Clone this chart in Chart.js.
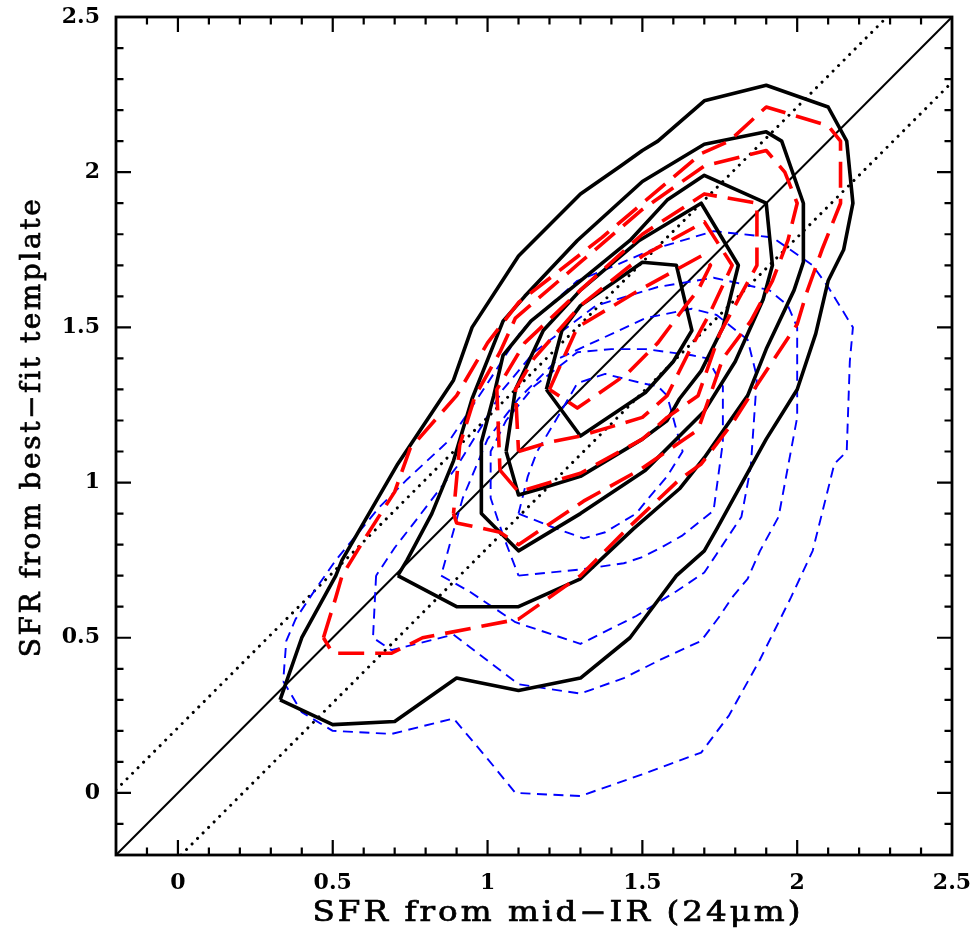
<!DOCTYPE html>
<html>
<head>
<meta charset="utf-8">
<script src="https://cdn.jsdelivr.net/npm/chart.js@4/dist/chart.umd.min.js"></script>
<style>
  html,body{margin:0;padding:0;background:#fff;}
  canvas{display:block;}
</style>
</head>
<body>
<canvas id="c" width="977" height="940"></canvas>
<script>
// ---------------- DATA ----------------
const xTicks = [0, 0.5, 1, 1.5, 2, 2.5];
const xTickLabels = ['0', '0.5', '1', '1.5', '2', '2.5'];
const yTicks = [0, 0.5, 1, 1.5, 2, 2.5];
const yTickLabels = ['0', '0.5', '1', '1.5', '2', '2.5'];
const xTitle = 'SFR from mid\u2212IR (24\u03bcm)';
const yTitle = 'SFR from best\u2212fit template';

// reference lines: 1:1 and +/- offset (dotted)
const oneToOne = [[-0.2, -0.2], [2.5, 2.5]];
const upperDotted = [[-0.2, 0.01], [2.29, 2.5]];
const lowerDotted = [[0.01, -0.2], [2.5, 2.29]];

// black solid contours (outer -> inner)
const black1 = [[0.33,0.30],[0.50,0.22],[0.70,0.23],[0.80,0.30],[0.90,0.37],[1.10,0.33],[1.30,0.37],[1.46,0.50],[1.55,0.62],[1.61,0.70],[1.70,0.78],[1.74,0.85],[1.85,1.05],[1.90,1.14],[2.00,1.30],[2.06,1.48],[2.10,1.65],[2.15,1.75],[2.18,1.90],[2.16,2.10],[2.10,2.21],[1.90,2.28],[1.70,2.23],[1.55,2.10],[1.50,2.07],[1.43,2.02],[1.30,1.93],[1.10,1.73],[0.95,1.50],[0.89,1.33],[0.71,1.06],[0.53,0.75],[0.51,0.70],[0.40,0.50],[0.33,0.30]];
const black2 = [[0.71,0.70],[0.90,0.60],[1.10,0.60],[1.30,0.69],[1.47,0.85],[1.62,0.98],[1.70,1.08],[1.84,1.28],[1.90,1.43],[1.99,1.62],[2.02,1.71],[2.02,1.90],[1.95,2.10],[1.90,2.13],[1.70,2.09],[1.50,1.97],[1.29,1.78],[1.12,1.60],[1.05,1.52],[1.01,1.42],[0.95,1.27],[0.89,1.07],[0.82,0.90],[0.74,0.75],[0.71,0.70]];
const black3 = [[0.98,0.90],[1.04,0.84],[1.10,0.78],[1.30,0.90],[1.51,1.04],[1.62,1.15],[1.70,1.23],[1.80,1.39],[1.89,1.59],[1.92,1.70],[1.90,1.90],[1.70,1.99],[1.58,1.91],[1.46,1.78],[1.30,1.65],[1.14,1.52],[1.05,1.41],[1.02,1.28],[0.98,1.13],[0.98,0.90]];
const black4 = [[1.06,1.10],[1.10,0.96],[1.17,0.98],[1.30,1.02],[1.50,1.14],[1.58,1.20],[1.62,1.27],[1.69,1.36],[1.76,1.50],[1.81,1.70],[1.69,1.90],[1.49,1.78],[1.30,1.62],[1.18,1.49],[1.09,1.30],[1.06,1.10]];
const black5 = [[1.19,1.30],[1.24,1.49],[1.30,1.57],[1.50,1.71],[1.61,1.70],[1.66,1.49],[1.60,1.39],[1.51,1.29],[1.30,1.15],[1.19,1.30]];

// red long-dashed contours
const red1 = [[0.47,0.50],[0.51,0.63],[0.53,0.70],[0.61,0.83],[0.70,0.97],[0.75,1.11],[0.90,1.28],[1.00,1.45],[1.10,1.58],[1.37,1.79],[1.69,2.06],[1.78,2.10],[1.90,2.21],[2.10,2.15],[2.14,2.10],[2.14,1.90],[2.08,1.75],[2.03,1.61],[2.00,1.51],[1.88,1.33],[1.79,1.19],[1.69,1.06],[1.62,1.01],[1.45,0.85],[1.30,0.70],[1.10,0.56],[0.79,0.50],[0.69,0.45],[0.50,0.45],[0.47,0.50]];
const red2 = [[0.89,0.90],[0.90,0.87],[1.04,0.84],[1.10,0.80],[1.31,0.94],[1.49,1.04],[1.68,1.17],[1.76,1.40],[1.85,1.52],[1.92,1.65],[1.97,1.78],[2.00,1.90],[1.96,2.00],[1.90,2.07],[1.70,2.02],[1.50,1.88],[1.30,1.71],[1.09,1.53],[1.04,1.42],[0.96,1.28],[0.91,1.12],[0.89,0.90]];
const red3 = [[1.04,1.04],[1.10,0.97],[1.30,1.03],[1.50,1.14],[1.58,1.21],[1.68,1.28],[1.75,1.48],[1.81,1.59],[1.87,1.70],[1.87,1.90],[1.70,1.93],[1.50,1.80],[1.30,1.62],[1.12,1.45],[1.03,1.30],[1.04,1.04]];
const red4 = [[1.10,1.10],[1.20,1.13],[1.30,1.15],[1.50,1.21],[1.58,1.28],[1.65,1.42],[1.72,1.55],[1.79,1.70],[1.70,1.84],[1.50,1.73],[1.30,1.57],[1.15,1.40],[1.09,1.30],[1.10,1.10]];
const red5 = [[1.20,1.30],[1.29,1.50],[1.49,1.62],[1.69,1.73],[1.72,1.70],[1.68,1.62],[1.64,1.57],[1.55,1.45],[1.45,1.35],[1.29,1.24],[1.20,1.30]];

// blue short-dashed contours
const blue1 = [[0.34,0.36],[0.40,0.26],[0.50,0.20],[0.69,0.19],[0.89,0.24],[1.00,0.11],[1.09,0.00],[1.30,-0.01],[1.50,0.06],[1.69,0.13],[1.78,0.25],[1.88,0.43],[1.98,0.63],[2.05,0.78],[2.12,1.06],[2.16,1.10],[2.17,1.39],[2.18,1.50],[2.10,1.63],[2.05,1.70],[1.92,1.79],[1.73,1.81],[1.53,1.75],[1.39,1.69],[1.29,1.65],[1.20,1.57],[1.11,1.49],[1.00,1.32],[0.88,1.14],[0.74,1.01],[0.65,0.92],[0.51,0.75],[0.44,0.65],[0.38,0.56],[0.35,0.49],[0.34,0.36]];
const blue2 = [[0.64,0.70],[0.63,0.50],[0.69,0.46],[0.89,0.51],[1.10,0.35],[1.30,0.32],[1.44,0.37],[1.56,0.43],[1.69,0.49],[1.75,0.57],[1.79,0.63],[1.84,0.69],[1.88,0.78],[1.94,0.89],[2.00,1.21],[2.00,1.50],[1.97,1.57],[1.91,1.62],[1.73,1.66],[1.55,1.63],[1.35,1.57],[1.15,1.42],[1.05,1.30],[0.98,1.18],[0.90,1.05],[0.77,0.88],[0.70,0.79],[0.64,0.70]];
const blue3 = [[0.85,0.70],[0.94,0.65],[1.09,0.55],[1.30,0.48],[1.48,0.57],[1.61,0.65],[1.70,0.71],[1.74,0.77],[1.82,0.89],[1.85,1.05],[1.87,1.34],[1.84,1.46],[1.74,1.54],[1.66,1.56],[1.51,1.53],[1.36,1.46],[1.23,1.40],[1.10,1.27],[1.00,1.14],[0.92,0.95],[0.90,0.88],[0.85,0.70]];
const blue4 = [[1.10,0.70],[1.30,0.72],[1.44,0.74],[1.50,0.76],[1.56,0.79],[1.63,0.83],[1.73,0.91],[1.76,1.13],[1.76,1.31],[1.71,1.40],[1.66,1.41],[1.51,1.43],[1.40,1.43],[1.29,1.42],[1.15,1.31],[1.06,1.20],[1.01,1.10],[1.01,0.95],[1.05,0.83],[1.10,0.70]];
const blue5 = [[1.10,0.90],[1.20,0.86],[1.31,0.82],[1.38,0.84],[1.48,0.90],[1.52,0.95],[1.58,1.02],[1.63,1.10],[1.61,1.17],[1.58,1.28],[1.55,1.31],[1.50,1.32],[1.38,1.35],[1.29,1.32],[1.22,1.20],[1.16,1.10],[1.13,1.02],[1.10,0.90]];

// ---------------- STYLES ----------------
const toPts = arr => arr.map(p => ({x: p[0], y: p[1]}));
const base = {showLine: true, pointRadius: 0, pointHoverRadius: 0, fill: false, tension: 0, borderJoinStyle: 'round', clip: 0};
const blackStyle = {borderColor: '#000000', borderWidth: 3.6, borderDash: [], order: 1};
const redStyle = {borderColor: '#ff0000', borderWidth: 3.6, borderDash: [26, 11], borderCapStyle: 'butt', order: 0};
const blueStyle = {borderColor: '#0000ff', borderWidth: 1.9, borderDash: [10, 6.5], borderCapStyle: 'butt', order: 2};

const datasets = [];
[[oneToOne, {borderColor:'#000', borderWidth:2, order:3}],
 [upperDotted, {borderColor:'#000', borderWidth:3, borderDash:[0.01, 7.8], borderCapStyle:'round', order:3}],
 [lowerDotted, {borderColor:'#000', borderWidth:3, borderDash:[0.01, 7.8], borderCapStyle:'round', order:3}]
].forEach(([d, s]) => datasets.push(Object.assign({}, base, s, {data: toPts(d)})));
[blue1, blue2, blue3, blue4, blue5].forEach(d => datasets.push(Object.assign({}, base, blueStyle, {data: toPts(d)})));
[black1, black2, black3, black4, black5].forEach(d => datasets.push(Object.assign({}, base, blackStyle, {data: toPts(d)})));
[red1, red2, red3, red4, red5].forEach(d => datasets.push(Object.assign({}, base, redStyle, {data: toPts(d)})));

const FONT = "'DejaVu Serif', 'Liberation Serif', serif";

// draw a title as real text, widened horizontally to the reference width
function drawTitle(ctx, txt, cx, cy, target, rotate) {
  ctx.save();
  ctx.font = '27px ' + FONT;
  ctx.letterSpacing = '2.5px';
  ctx.textAlign = 'center';
  ctx.textBaseline = 'alphabetic';
  const w = ctx.measureText(txt).width - 2.5;
  const sx = target / w;
  ctx.translate(cx, cy);
  if (rotate) ctx.rotate(-Math.PI / 2);
  ctx.scale(sx, 1);
  ctx.fillStyle = '#000';
  ctx.strokeStyle = '#000';
  ctx.lineWidth = 0.7;
  ctx.fillText(txt, 0, 0);
  ctx.strokeText(txt, 0, 0);
  ctx.restore();
}

const framePlugin = {
  id: 'frame',
  afterDraw(chart) {
    const ctx = chart.ctx;
    const {left, right, top, bottom} = chart.chartArea;
    const xs = chart.scales.x, ys = chart.scales.y;
    ctx.save();
    ctx.strokeStyle = '#000';
    ctx.lineCap = 'butt';
    // ticks (inward on all four sides)
    ctx.lineWidth = 2.2;
    for (let i = -1; i <= 24; i++) {
      const v = i / 10;
      const major = (i % 5 === 0);
      const len = major ? 15 : 7.5;
      const px = xs.getPixelForValue(v);
      if (px > left + 1 && px < right - 1) {
        ctx.beginPath();
        ctx.moveTo(px, bottom); ctx.lineTo(px, bottom - len);
        ctx.moveTo(px, top); ctx.lineTo(px, top + len);
        ctx.stroke();
      }
      const py = ys.getPixelForValue(v);
      if (py > top + 1 && py < bottom - 1) {
        ctx.beginPath();
        ctx.moveTo(left, py); ctx.lineTo(left + len, py);
        ctx.moveTo(right, py); ctx.lineTo(right - len, py);
        ctx.stroke();
      }
    }
    // frame
    ctx.lineWidth = 2.8;
    ctx.strokeRect(left, top, right - left, bottom - top);
    ctx.restore();

    // axis titles
    drawTitle(ctx, xTitle, 558, 921, 488, false);
    drawTitle(ctx, yTitle, 40, 427, 458, true);
  }
};

new Chart(document.getElementById('c').getContext('2d'), {
  type: 'scatter',
  data: {datasets},
  options: {
    responsive: false,
    animation: false,
    devicePixelRatio: 1,
    layout: {padding: {left: 0, right: 25, top: 17, bottom: 0}},
    plugins: {legend: {display: false}, tooltip: {enabled: false}},
    scales: {
      x: {
        type: 'linear', min: -0.2, max: 2.5,
        grid: {display: false}, border: {display: false},
        afterBuildTicks: s => { s.ticks = xTicks.map(v => ({value: v})); },
        afterFit: s => { s.height = 85; s.paddingLeft = 0; s.paddingRight = 0; },
        ticks: {
          autoSkip: false, maxRotation: 0, color: '#000', padding: 7,
          font: {family: FONT, size: 22, weight: 'bold'},
          callback: v => xTickLabels[xTicks.indexOf(v)]
        }
      },
      y: {
        type: 'linear', min: -0.2, max: 2.5,
        grid: {display: false}, border: {display: false},
        afterBuildTicks: s => { s.ticks = yTicks.map(v => ({value: v})); },
        afterFit: s => { s.width = 116; s.paddingTop = 0; s.paddingBottom = 0; },
        ticks: {
          autoSkip: false, color: '#000', padding: 8,
          font: {family: FONT, size: 22, weight: 'bold'},
          callback: v => yTickLabels[yTicks.indexOf(v)]
        }
      }
    }
  },
  plugins: [framePlugin]
});
</script>
</body>
</html>
